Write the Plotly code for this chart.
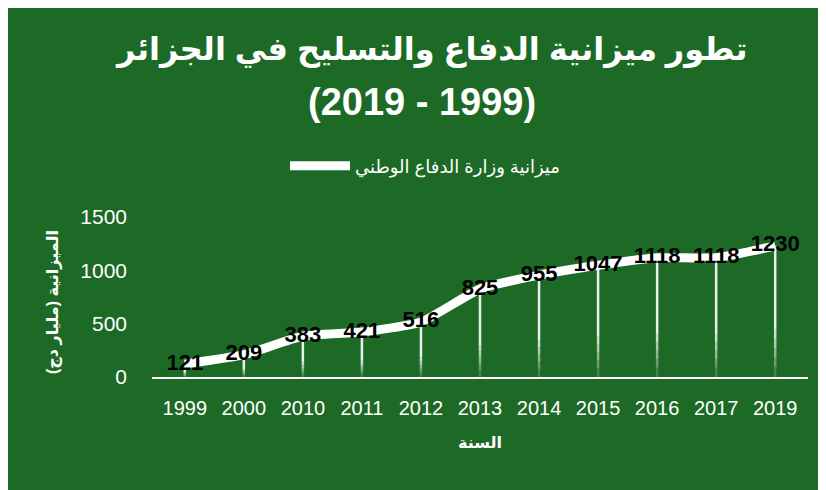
import plotly.graph_objects as go

years = ["1999", "2000", "2010", "2011", "2012", "2013", "2014", "2015", "2016", "2017", "2019"]
budget = [121, 209, 383, 421, 516, 825, 955, 1047, 1118, 1118, 1230]

title_line1 = "<b>تطور ميزانية الدفاع والتسليح في الجزائر</b>"
title_line2 = "<b>(2019 - 1999)</b>"
series_name = "ميزانية وزارة الدفاع الوطني"
y_title = "<b>الميزانية (مليار دج)</b>"
x_title = "<b>السنة</b>"

green = "#1C6A25"
font_fam = "Liberation Sans, Arial, DejaVu Sans"
# the page body keeps its default 8px margin, which gives the white edge
W, H = 818, 482
L, R, T, B = 144, 18, 209, 113
pw, ph = W - L - R, H - T - B


def px(x):
    return (x - L) / pw


def py(y):
    return (H - B - y) / ph


fig = go.Figure()

# drop lines: solid on top, fading towards the axis
bands = [(0.36, 1.0, 0.9), (0.29, 0.36, 0.78), (0.22, 0.29, 0.64),
         (0.15, 0.22, 0.5), (0.08, 0.15, 0.34), (0.0, 0.08, 0.18)]
for f0, f1, a in bands:
    xs, ys = [], []
    for yr, v in zip(years, budget):
        xs += [yr, yr, None]
        ys += [v * f0, v * f1, None]
    fig.add_trace(go.Scatter(
        x=xs, y=ys, mode="lines", showlegend=False, hoverinfo="skip",
        line=dict(color=f"rgba(255,255,255,{a})", width=2.5),
    ))

fig.add_trace(go.Scatter(
    x=years, y=budget, mode="lines+text", name=series_name,
    line=dict(color="white", width=9, shape="spline", smoothing=0.5),
    text=[str(v) for v in budget], textposition="middle center",
    textfont=dict(family=font_fam, size=22, color="black", weight="bold"),
    cliponaxis=False,
))


def label(text, x, y, size, angle=0):
    fig.add_annotation(text=text, textangle=angle, xref="paper", yref="paper",
                       x=px(x), y=py(y), xanchor="center", yanchor="middle",
                       showarrow=False, font=dict(family=font_fam, size=size, color="white"))


label(title_line1, 423, 42, 32)
label(title_line2, 414, 94, 38)
label(y_title, 45, 294, 16, angle=-90)
label(x_title, 472, 434, 16)

fig.update_layout(
    width=W, height=H,
    margin=dict(l=L, r=R, t=T, b=B),
    paper_bgcolor=green, plot_bgcolor="rgba(0,0,0,0)",
    showlegend=True,
    legend=dict(orientation="h", x=px(417), xanchor="center", y=py(158), yanchor="middle",
                bgcolor="rgba(0,0,0,0)", itemwidth=60,
                font=dict(family=font_fam, size=18, color="white")),
    xaxis=dict(type="category", showgrid=False, showline=True, linecolor="white", linewidth=2,
               ticks="", ticklabelstandoff=12, zeroline=False,
               tickfont=dict(family=font_fam, size=20, color="white")),
    yaxis=dict(range=[0, 1500], tickvals=[0, 500, 1000, 1500], showgrid=False, zeroline=False,
               showline=False, ticks="", ticklabelstandoff=24,
               tickfont=dict(family=font_fam, size=21, color="white")),
)

fig.write_html("out.html")
